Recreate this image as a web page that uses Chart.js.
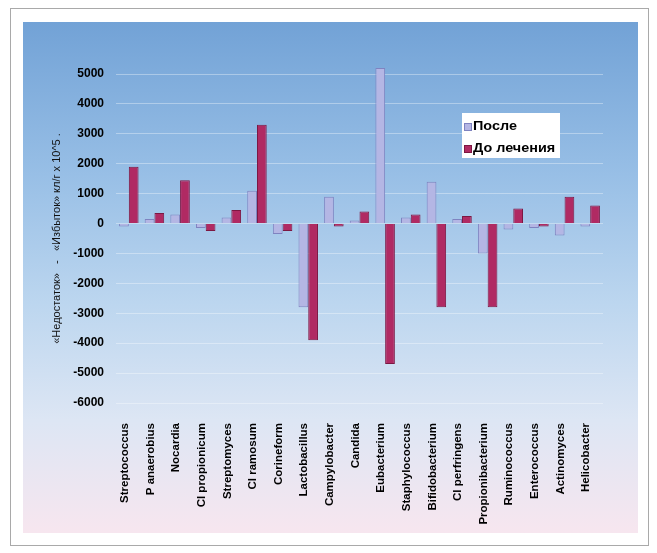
<!DOCTYPE html>
<html>
<head>
<meta charset="utf-8">
<script src="https://cdn.jsdelivr.net/npm/chart.js@4/dist/chart.umd.min.js"></script>
<style>
  html, body { margin: 0; padding: 0; background: #ffffff; }
  #wrap { width: 657px; height: 553px; }
</style>
</head>
<body>
<div id="wrap"><canvas id="chart" width="657" height="553"></canvas></div>
<script>
// Microflora shift, CFU/g x 10^5: deficit (negative) vs excess (positive)
const categories = [
  'Streptococcus', 'P anaerobius', 'Nocardia', 'Cl propionicum', 'Streptomyces',
  'Cl ramosum', 'Corineform', 'Lactobacillus', 'Campylobacter', 'Candida',
  'Eubacterium', 'Staphylococcus', 'Bifidobacterium', 'Cl perfringens',
  'Propionibacterium', 'Ruminococcus', 'Enterococcus', 'Actinomyces', 'Helicobacter'
];
const afterValues = [
  -100, 150, 300, -150, 200,
  1100, -350, -2800, 900, 100,
  5200, 200, 1400, 150,
  -1000, -200, -150, -400, -100
];
const beforeValues = [
  1900, 350, 1450, -250, 450,
  3300, -250, -3900, -100, 400,
  -4700, 300, -2800, 250,
  -2800, 500, -100, 900, 600
];
const seriesNames = ['После', 'До лечения'];
const yMin = -6000, yMax = 5000, yStep = 1000;
const yTitle = '«Недостаток»   -   «Избыток» кл/г х 10^5 .';

const W = 657, H = 553;

// Framed panel with a blue-to-pink wash behind the plot
const backdrop = {
  id: 'backdrop',
  beforeDraw(chart) {
    const ctx = chart.ctx;
    ctx.save();
    ctx.fillStyle = '#ffffff';
    ctx.fillRect(0, 0, W, H);
    const g = ctx.createLinearGradient(0, 22, 0, 533);
    g.addColorStop(0.00, '#72a2d6');
    g.addColorStop(0.30, '#98bfe6');
    g.addColorStop(0.55, '#bcd6ef');
    g.addColorStop(0.78, '#dde6f4');
    g.addColorStop(1.00, '#f7e6ef');
    ctx.fillStyle = g;
    ctx.fillRect(23, 22, 615, 511);
    ctx.strokeStyle = '#a9a9a9';
    ctx.lineWidth = 1;
    ctx.strokeRect(10.5, 8.5, 638, 537);
    ctx.restore();
  }
};

// Boxed legend inside the plot area
const boxLegend = {
  id: 'boxLegend',
  afterDraw(chart) {
    const ctx = chart.ctx;
    const ds = chart.data.datasets;
    ctx.save();
    ctx.fillStyle = '#ffffff';
    ctx.fillRect(462, 113, 98, 45);
    ctx.font = 'bold 12px "Liberation Sans", Arial, sans-serif';
    ctx.textBaseline = 'middle';
    ds.forEach((d, i) => {
      const y = 127 + i * 22;
      ctx.fillStyle = d.backgroundColor;
      ctx.fillRect(465, y - 3, 6, 6);
      ctx.strokeStyle = d.borderColor;
      ctx.lineWidth = 1;
      ctx.strokeRect(464.5, y - 3.5, 7, 7);
      ctx.fillStyle = '#000000';
      ctx.save();
      ctx.translate(473, y);
      ctx.scale(1.2, 1);
      ctx.fillText(d.label, 0, 0);
      ctx.restore();
    });
    ctx.restore();
  }
};

new Chart(document.getElementById('chart'), {
  type: 'bar',
  data: {
    labels: categories,
    datasets: [
      {
        label: seriesNames[0],
        data: afterValues,
        backgroundColor: '#b4b6e4',
        borderColor: '#7f83c0',
        borderWidth: 1,
        clip: false
      },
      {
        label: seriesNames[1],
        data: beforeValues,
        backgroundColor: '#b02a63',
        borderColor: '#7c1742',
        borderWidth: 1,
        clip: false
      }
    ]
  },
  options: {
    responsive: false,
    animation: false,
    devicePixelRatio: 1,
    layout: { padding: { left: 46, right: 54, top: 74, bottom: 0 } },
    datasets: { bar: { categoryPercentage: 0.76, barPercentage: 1.0 } },
    plugins: {
      legend: { display: false },
      tooltip: { enabled: false }
    },
    scales: {
      x: {
        grid: { display: false, drawTicks: false },
        border: { display: false },
        afterFit(scale) { scale.height = 150; },
        ticks: {
          autoSkip: false,
          minRotation: 90,
          maxRotation: 90,
          padding: 20,
          labelOffset: -4,
          color: '#000000',
          font: { family: '"Liberation Sans", Arial, sans-serif', size: 11.5, weight: 'bold' }
        }
      },
      y: {
        min: yMin,
        max: yMax,
        afterFit(scale) { scale.width = 70; },
        grid: { color: 'rgba(255,255,255,0.35)', drawTicks: false },
        border: { display: false },
        ticks: {
          stepSize: yStep,
          padding: 12,
          color: '#000000',
          callback: (v) => String(v),
          font: { family: '"Liberation Sans", Arial, sans-serif', size: 12, weight: 'bold' }
        },
        title: {
          display: true,
          text: yTitle,
          color: '#111111',
          padding: { top: 4, bottom: 4 },
          font: { family: '"Liberation Sans", Arial, sans-serif', size: 11 }
        }
      }
    }
  },
  plugins: [backdrop, boxLegend]
});
</script>
</body>
</html>
